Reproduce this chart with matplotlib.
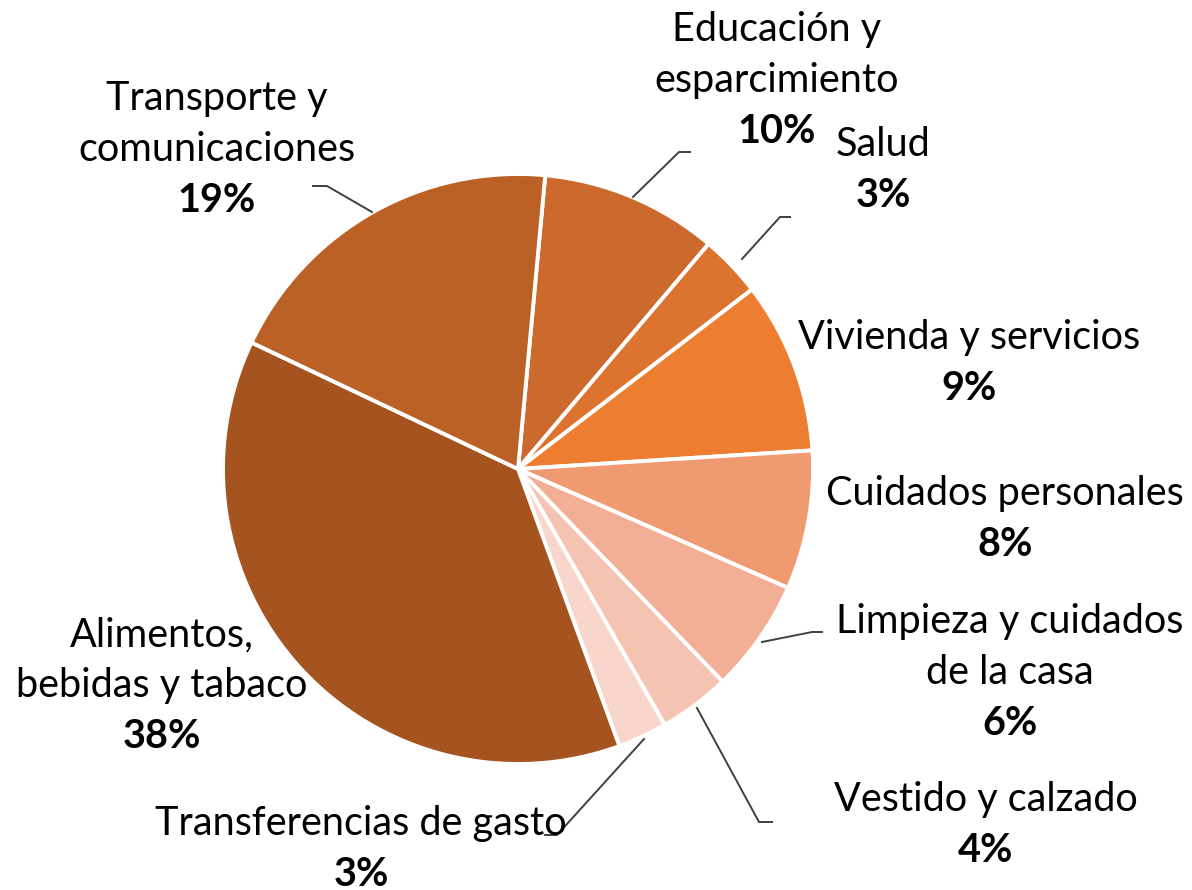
import matplotlib
matplotlib.use("Agg")
import matplotlib.pyplot as plt

W, H = 1192, 890  # pixels

categories = [
    "Educación y\nesparcimiento",
    "Salud",
    "Vivienda y servicios",
    "Cuidados personales",
    "Limpieza y cuidados\nde la casa",
    "Vestido y calzado",
    "Transferencias de gasto",
    "Alimentos,\nbebidas y tabaco",
    "Transporte y\ncomunicaciones",
]
shares = [9.7, 3.4, 9.4, 7.6, 6.2, 3.9, 2.7, 37.6, 19.4]
colors = ["#CB6A2C", "#DC742F", "#ED7D31", "#F09A72", "#F2AF96",
          "#F5C3B2", "#F8D6CB", "#A5541F", "#BC6126"]

# label layout: (center x, first line y) in pixels
label_pos = [(777, 28), (883, 143), (969, 336), (1005, 492), (1010, 620),
             (986, 798), (361, 822), (162, 633), (217, 97)]
LINE_STEP = 51

# leader lines (pixel coords), None when the label has no leader
leaders = [
    [(633, 197), (679, 152), (690, 152)],
    [(742, 259), (780, 217), (790, 217)],
    None,
    None,
    [(762, 642), (812, 632), (822, 632)],
    [(697, 708), (759, 822), (772, 822)],
    [(644, 739), (557, 835), (545, 835)],
    None,
    [(372, 212), (327, 186), (313, 186)],
]

FONT = "Lato"
FS = 28.5

fig = plt.figure(figsize=(W / 100, H / 100), dpi=100)
ax = fig.add_axes([0, 0, 1, 1])

ax.pie(shares, colors=colors, center=(518, 469), radius=295,
       startangle=-84.7, counterclock=True,
       wedgeprops=dict(edgecolor="white", linewidth=2.8))
ax.set_xlim(0, W)
ax.set_ylim(H, 0)
ax.set_aspect("equal")
ax.axis("off")

for name, val, (cx, cy), lead in zip(categories, shares, label_pos, leaders):
    lines = name.split("\n")
    for i, ln in enumerate(lines):
        ax.text(cx, cy + i * LINE_STEP + 13, ln, ha="center", va="baseline",
                fontsize=FS, family=FONT, color="black")
    ax.text(cx, cy + len(lines) * LINE_STEP + 13, f"{round(val):.0f}%",
            ha="center", va="baseline", fontsize=FS, family=FONT,
            fontweight="bold", color="black")
    if lead:
        xs = [p[0] for p in lead]
        ys = [p[1] for p in lead]
        ax.plot(xs, ys, color="#404040", linewidth=1.4)

fig.savefig("out.png", dpi=100)
